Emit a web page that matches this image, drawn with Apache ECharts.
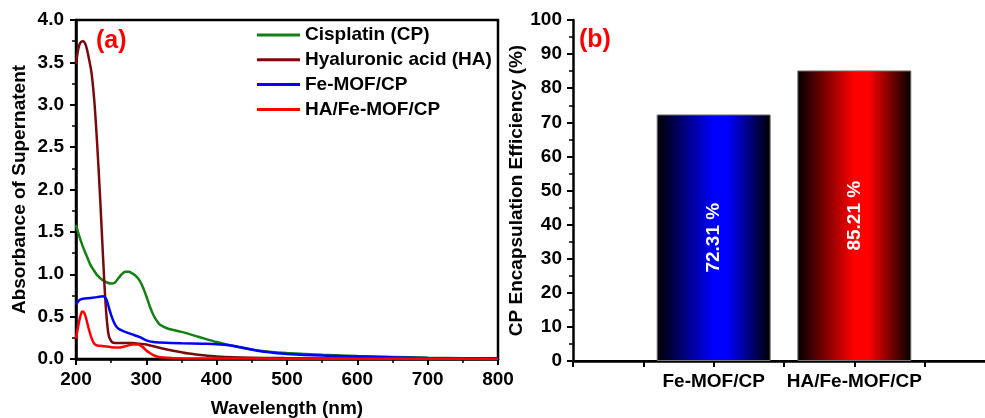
<!DOCTYPE html>
<html>
<head>
<meta charset="utf-8">
<script src="https://cdn.jsdelivr.net/npm/echarts@6/dist/echarts.min.js"></script>
<style>
html, body { margin: 0; padding: 0; background: #fff; }
#main { width: 985px; height: 418px; }
</style>
</head>
<body>
<div id="main"></div>
<script>
// (a) UV-vis spectra of supernatant
var cpWl  = [200, 205, 210, 215, 220, 225, 230, 238, 245, 250, 255, 260, 265, 270, 275, 280, 285, 290, 295, 300, 305, 310, 315, 320, 330, 340, 350, 375, 400, 425, 450, 475, 500, 550, 600, 650, 700, 750, 800];
var cpAbs = [1.58, 1.44, 1.32, 1.22, 1.12, 1.05, 0.99, 0.93, 0.90, 0.89, 0.90, 0.95, 1.00, 1.03, 1.03, 1.01, 0.98, 0.93, 0.85, 0.74, 0.62, 0.52, 0.45, 0.40, 0.36, 0.34, 0.32, 0.26, 0.20, 0.15, 0.11, 0.085, 0.07, 0.05, 0.035, 0.025, 0.015, 0.01, 0.008];

var haWl  = [200, 203, 206, 210, 214, 218, 222, 226, 230, 234, 238, 242, 246, 250, 255, 260, 270, 280, 290, 300, 310, 320, 340, 360, 380, 400, 450, 500, 600, 700, 800];
var haAbs = [3.48, 3.65, 3.73, 3.75, 3.70, 3.56, 3.38, 3.05, 2.55, 1.95, 1.28, 0.66, 0.30, 0.21, 0.19, 0.19, 0.19, 0.19, 0.18, 0.17, 0.15, 0.13, 0.095, 0.065, 0.045, 0.03, 0.015, 0.01, 0.005, 0.003, 0.002];

var mofWl  = [200, 203, 206, 210, 220, 230, 238, 242, 245, 248, 252, 256, 260, 270, 280, 290, 300, 310, 320, 350, 380, 400, 420, 440, 460, 480, 500, 550, 600, 650, 700, 750, 800];
var mofAbs = [0.64, 0.68, 0.70, 0.71, 0.72, 0.73, 0.74, 0.72, 0.66, 0.57, 0.47, 0.40, 0.36, 0.32, 0.29, 0.26, 0.22, 0.20, 0.195, 0.185, 0.18, 0.175, 0.16, 0.13, 0.095, 0.075, 0.06, 0.04, 0.03, 0.02, 0.012, 0.008, 0.005];

var haMofWl  = [200, 203, 206, 209, 212, 215, 218, 222, 226, 230, 240, 250, 260, 270, 280, 288, 295, 300, 305, 310, 315, 320, 340, 400, 500, 600, 700, 800];
var haMofAbs = [0.24, 0.38, 0.50, 0.56, 0.54, 0.46, 0.36, 0.25, 0.18, 0.16, 0.15, 0.14, 0.135, 0.15, 0.17, 0.17, 0.14, 0.10, 0.07, 0.045, 0.03, 0.02, 0.01, 0.006, 0.004, 0.003, 0.002, 0.001];

var seriesNames = ['Cisplatin (CP)', 'Hyaluronic acid (HA)', 'Fe-MOF/CP', 'HA/Fe-MOF/CP'];

// (b) encapsulation efficiency
var barNames = ['Fe-MOF/CP', 'HA/Fe-MOF/CP'];
var efficiency = [72.31, 85.21];

var FONT = "'Liberation Sans', Arial, sans-serif";

function pairs(xs, ys) {
	return xs.map(function (x, i) { return [x, ys[i]]; });
}

function grad(bright) {
	return new echarts.graphic.LinearGradient(0, 0, 1, 0, [
		{offset: 0, color: '#000000'},
		{offset: 0.5, color: bright},
		{offset: 0.62, color: bright},
		{offset: 1, color: '#000000'}
	]);
}

var axisBase = {
	axisLine: {show: true, onZero: false, lineStyle: {color: '#000', width: 2.5}},
	axisTick: {show: true, inside: false, length: 6, lineStyle: {color: '#000', width: 2}},
	minorTick: {show: true, splitNumber: 2, length: 4, lineStyle: {color: '#000', width: 1.5}},
	splitLine: {show: false},
	axisLabel: {color: '#000', fontFamily: FONT, fontWeight: 'bold', fontSize: 19, margin: 11},
	nameTextStyle: {color: '#000', fontFamily: FONT, fontWeight: 'bold', fontSize: 19}
};

function ax(extra) {
	return Object.assign({}, JSON.parse(JSON.stringify(axisBase)), extra);
}

var lineColors = ['#138013', '#7a0a0a', '#0000ff', '#ff0000'];
var lineData = [pairs(cpWl, cpAbs), pairs(haWl, haAbs), pairs(mofWl, mofAbs), pairs(haMofWl, haMofAbs)];

var series = seriesNames.map(function (name, i) {
	return {
		name: name,
		type: 'line',
		xAxisIndex: 0,
		yAxisIndex: 0,
		data: lineData[i],
		smooth: 0.3,
		showSymbol: false,
		symbol: 'none',
		lineStyle: {color: lineColors[i], width: 2.5},
		itemStyle: {color: lineColors[i]},
		z: 5 + i
	};
});

series.push({
	type: 'bar',
	xAxisIndex: 1,
	yAxisIndex: 1,
	barWidth: 114,
	data: efficiency.map(function (v, i) {
		return {
			value: [2 * (i + 1), v],
			itemStyle: {color: grad(i === 0 ? '#0000ff' : '#ff0000'), borderColor: '#7a7a7a', borderWidth: 1}
		};
	}),
	label: {
		show: true,
		position: 'inside',
		rotate: 90,
		color: '#fff',
		fontFamily: FONT,
		fontWeight: 'bold',
		fontSize: 19,
		formatter: function (p) { return p.value[1].toFixed(2) + ' %'; }
	}
});

var chart = echarts.init(document.getElementById('main'), null, {renderer: 'canvas'});

chart.setOption({
	animation: false,
	backgroundColor: '#fff',
	title: [
		{text: '(a)', left: 96, top: 29, padding: 0, textStyle: {color: '#ff0000', fontFamily: FONT, fontWeight: 'bold', fontSize: 25}},
		{text: '(b)', left: 579, top: 28, padding: 0, textStyle: {color: '#ff0000', fontFamily: FONT, fontWeight: 'bold', fontSize: 25}}
	],
	legend: {
		data: seriesNames,
		orient: 'vertical',
		left: 257,
		top: 25.5,
		padding: 0,
		icon: 'rect',
		itemWidth: 43,
		itemHeight: 3,
		itemGap: 5.8,
		textStyle: {color: '#000', fontFamily: FONT, fontWeight: 'bold', fontSize: 19, lineHeight: 19}
	},
	grid: [
		{left: 76, top: 20, width: 422, height: 339, show: true, borderColor: '#000', borderWidth: 2.5, containLabel: false, outerBoundsMode: 'none'},
		{left: 573, top: 20, width: 422, height: 341, show: false, containLabel: false, outerBoundsMode: 'none'}
	],
	xAxis: [
		ax({
			type: 'value', gridIndex: 0, min: 200, max: 800, interval: 100,
			name: 'Wavelength (nm)', nameLocation: 'middle', nameGap: 40
		}),
		ax({
			type: 'value', gridIndex: 1, min: 0, max: 6, interval: 1,
			minorTick: {show: false},
			axisLabel: {
				color: '#000', fontFamily: FONT, fontWeight: 'bold', fontSize: 19, margin: 11,
				formatter: function (v) {
					var k = v / 2 - 1;
					return (v % 2 === 0 && barNames[k]) ? barNames[k] : '';
				}
			}
		}),
		{
			// top frame line of panel (b)
			type: 'value', gridIndex: 1, position: 'top', min: 0, max: 6,
			axisLine: {show: true, lineStyle: {color: '#000', width: 2}},
			axisTick: {show: false}, axisLabel: {show: false}, splitLine: {show: false}
		}
	],
	yAxis: [
		ax({
			type: 'value', gridIndex: 0, min: 0, max: 4, interval: 0.5,
			name: 'Absorbance of Supernatent', nameLocation: 'middle', nameGap: 47,
			axisLabel: {color: '#000', fontFamily: FONT, fontWeight: 'bold', fontSize: 19, margin: 12,
				formatter: function (v) { return v.toFixed(1); }}
		}),
		ax({
			type: 'value', gridIndex: 1, min: 0, max: 100, interval: 10,
			name: 'CP Encapsulation Efficiency (%)', nameLocation: 'middle', nameGap: 37
		})
	],
	series: series
});
</script>
</body>
</html>
